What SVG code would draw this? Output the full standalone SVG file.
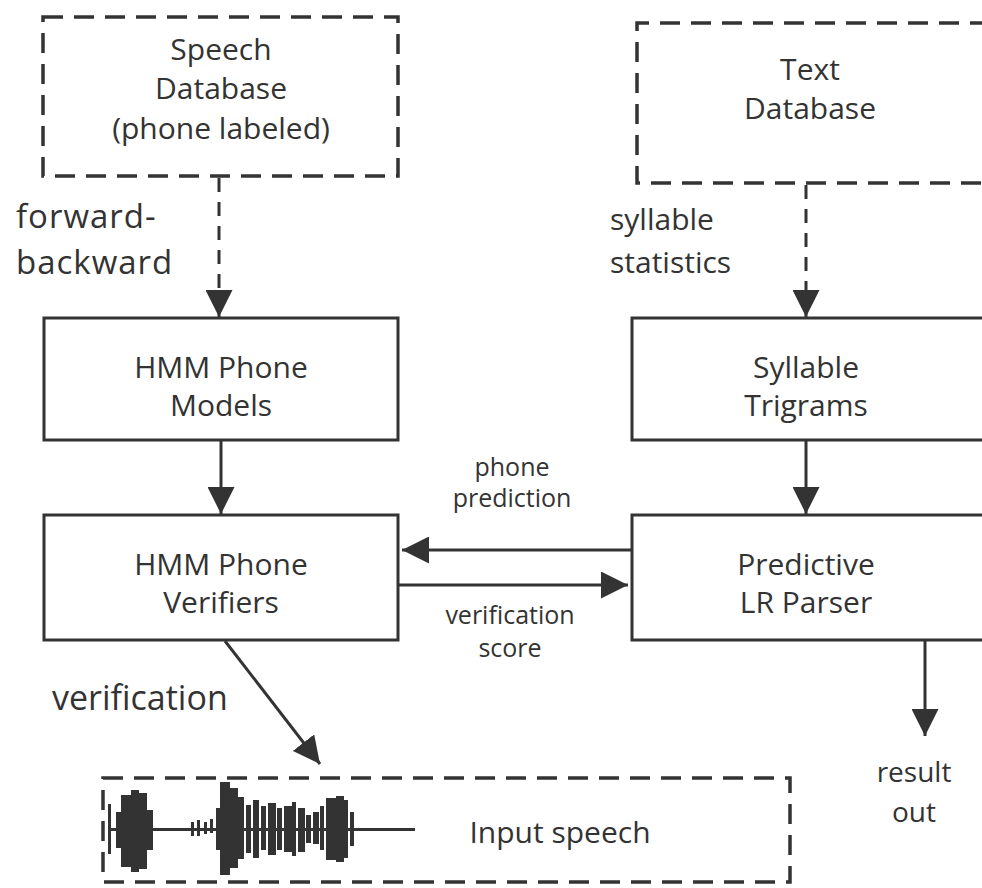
<svg xmlns="http://www.w3.org/2000/svg" width="982" height="888" viewBox="0 0 982 888">
<style>
.box{fill:none;stroke:#333;stroke-width:3}
.dash{fill:none;stroke:#333;stroke-width:3.5;stroke-dasharray:20 11}
.ln{fill:none;stroke:#333;stroke-width:3}
.dl{fill:none;stroke:#333;stroke-width:3;stroke-dasharray:14 10}
text{font-family:"Open Sans","Noto Sans",sans-serif;fill:#333}
.t{font-size:30px;text-anchor:middle}
.s{font-size:25px;text-anchor:middle}
.b{font-size:34px}
.f{font-size:33px;letter-spacing:1px}
.m{font-size:30px}
.r{font-size:28px;text-anchor:middle}
.w{fill:#333}
</style>
<defs>
<marker id="ah2" viewBox="0 0 10 10" refX="10" refY="5" markerWidth="9" markerHeight="9" orient="auto">
<path d="M0,0 L10,5 L0,10 z" fill="#333"/>
</marker>
</defs>

<g id="speech-db">
<rect class="dash" x="43" y="17" width="355" height="159"/>
<text class="t" x="221" y="60">Speech</text>
<text class="t" x="221" y="99">Database</text>
<text class="t" x="221" y="139">(phone labeled)</text>
</g>

<g id="text-db">
<path class="dash" d="M990,23 H637 V183 H990"/>
<text class="t" x="810" y="80">Text</text>
<text class="t" x="810" y="119">Database</text>
</g>

<g id="hmm-models">
<rect class="box" x="44" y="318" width="354" height="122"/>
<text class="t" x="221" y="378">HMM Phone</text>
<text class="t" x="221" y="416">Models</text>
</g>

<g id="trigrams">
<path class="box" d="M990,318 H632 V440 H990"/>
<text class="t" x="806" y="378">Syllable</text>
<text class="t" x="806" y="416">Trigrams</text>
</g>

<g id="verifiers">
<rect class="box" x="44" y="515" width="354" height="125"/>
<text class="t" x="221" y="575">HMM Phone</text>
<text class="t" x="221" y="613">Verifiers</text>
</g>

<g id="parser">
<path class="box" d="M990,515 H632 V640 H990"/>
<text class="t" x="806" y="575">Predictive</text>
<text class="t" x="806" y="613">LR Parser</text>
</g>

<g id="input-speech">
<rect class="dash" x="103" y="778" width="687" height="104"/>
<text class="t" x="560" y="843">Input speech</text>
<g class="w">
<rect x="108" y="804" width="3" height="50"/>
<rect x="108" y="828" width="307" height="3"/>
<rect x="116" y="812" width="5" height="36"/>
<rect x="121" y="795" width="10" height="72"/>
<rect x="131" y="790" width="8" height="82"/>
<rect x="139" y="793" width="8" height="76"/>
<rect x="147" y="810" width="6" height="40"/>
<rect x="191" y="822" width="3" height="14"/>
<rect x="197" y="820" width="3" height="16"/>
<rect x="204" y="822" width="3" height="12"/>
<rect x="210" y="819" width="3" height="14"/>
<rect x="216" y="808" width="4" height="42"/>
<rect x="220" y="782" width="10" height="93"/>
<rect x="230" y="788" width="8" height="80"/>
<rect x="238" y="797" width="6" height="62"/>
<rect x="246" y="805" width="5" height="48"/>
<rect x="253" y="800" width="6" height="58"/>
<rect x="261" y="806" width="5" height="44"/>
<rect x="268" y="803" width="8" height="52"/>
<rect x="277" y="808" width="5" height="42"/>
<rect x="284" y="806" width="8" height="46"/>
<rect x="292" y="802" width="4" height="54"/>
<rect x="298" y="808" width="7" height="44"/>
<rect x="306" y="815" width="5" height="28"/>
<rect x="313" y="812" width="6" height="32"/>
<rect x="320" y="806" width="4" height="44"/>
<rect x="326" y="798" width="10" height="62"/>
<rect x="336" y="796" width="8" height="66"/>
<rect x="344" y="800" width="4" height="58"/>
<rect x="350" y="812" width="4" height="34"/>
</g>
</g>

<g id="connectors">
<line class="dl" x1="219" y1="178" x2="219" y2="292"/>
<line class="ln" x1="219" y1="290" x2="219" y2="317" marker-end="url(#ah2)"/>
<line class="dl" x1="806" y1="185" x2="806" y2="292"/>
<line class="ln" x1="806" y1="290" x2="806" y2="317" marker-end="url(#ah2)"/>
<line class="ln" x1="221" y1="440" x2="221" y2="514" marker-end="url(#ah2)"/>
<line class="ln" x1="806" y1="440" x2="806" y2="514" marker-end="url(#ah2)"/>
<line class="ln" x1="632" y1="550" x2="402" y2="550" marker-end="url(#ah2)"/>
<line class="ln" x1="398" y1="585" x2="628" y2="585" marker-end="url(#ah2)"/>
<line class="ln" x1="925" y1="640" x2="925" y2="736" marker-end="url(#ah2)"/>
<line class="ln" x1="225" y1="641" x2="320" y2="764" marker-end="url(#ah2)"/>
<text class="s" x="512" y="476">phone</text>
<text class="s" x="512" y="507">prediction</text>
<text class="s" x="510" y="624">verification</text>
<text class="s" x="510" y="657">score</text>
<text class="f" x="16" y="228">forward-</text>
<text class="f" x="16" y="274">backward</text>
<text class="m" x="610" y="230">syllable</text>
<text class="m" x="610" y="273">statistics</text>
<text class="b" x="52" y="710">verification</text>
<text class="r" x="914" y="782">result</text>
<text class="r" x="914" y="822">out</text>
</g>
</svg>
